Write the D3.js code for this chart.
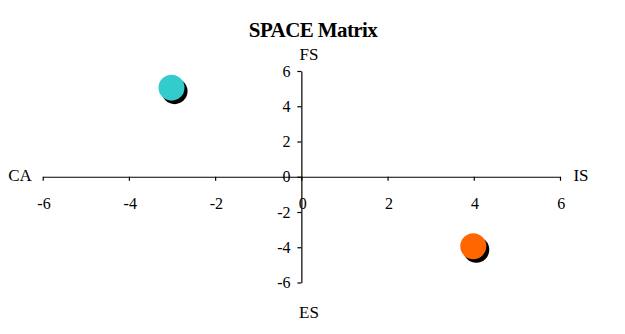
<!DOCTYPE html>
<html>
<head>
<meta charset="utf-8">
<script src="https://cdn.jsdelivr.net/npm/d3@7/dist/d3.min.js"></script>
<style>
  html, body { margin: 0; padding: 0; background: #fff; }
  svg { display: block; }
  text { font-family: "Liberation Serif", "Times New Roman", serif; fill: #000; }
</style>
</head>
<body>
<svg id="chart" width="625" height="334"></svg>
<script>
const seriesNames = ["Company A", "Company B"];
const xValues = [-3, 4];
const yValues = [5, -4];
const pointColors = ["#33CCCC", "#FF6600"];
const tickValues = [-6, -4, -2, 0, 2, 4, 6];
const tickLabels = ["-6", "-4", "-2", "0", "2", "4", "6"];
const title = "SPACE Matrix";
const axisNames = { top: "FS", bottom: "ES", left: "CA", right: "IS" };

const svg = d3.select("#chart");
const x = d3.scaleLinear().domain([-6, 6]).range([42.7, 560]);
const y = d3.scaleLinear().domain([-6, 6]).range([282.5, 71]);
const fmt = d => tickLabels[tickValues.indexOf(d)];

svg.append("rect").attr("width", 625).attr("height", 334).attr("fill", "#fff");

svg.append("text").attr("x", 313).attr("y", 37).attr("text-anchor", "middle")
  .style("font-size", "21px").style("font-weight", "bold").style("letter-spacing", "-0.6px")
  .text(title);

// X axis
const gx = svg.append("g").attr("transform", `translate(0,${y(0)})`)
  .call(d3.axisBottom(x).tickValues(tickValues).tickFormat(fmt).tickSize(4).tickSizeOuter(0).tickPadding(17));
// Y axis
const gy = svg.append("g").attr("transform", `translate(${x(0)},0)`)
  .call(d3.axisLeft(y).tickValues(tickValues).tickFormat(fmt).tickSize(4).tickSizeOuter(0).tickPadding(6));

[gx, gy].forEach(g => {
  g.attr("font-family", null).attr("font-size", null);
  g.select(".domain").attr("stroke", "#000").attr("stroke-width", 1.2);
  g.selectAll(".tick line").attr("stroke", "#000").attr("stroke-width", 1.2);
  g.selectAll(".tick text").style("font-size", "16px").attr("fill", "#000")
    .style("font-family", '"Liberation Serif", "Times New Roman", serif');
});
gx.selectAll(".tick text").attr("dx", "0.05em");
gy.selectAll(".tick text").attr("dx", "-0.05em");

// Axis name labels
svg.append("text").attr("x", 309).attr("y", 60).attr("text-anchor", "middle").style("font-size", "17px").text(axisNames.top);
svg.append("text").attr("x", 309).attr("y", 318).attr("text-anchor", "middle").style("font-size", "17px").text(axisNames.bottom);
svg.append("text").attr("x", 20).attr("y", 181).attr("text-anchor", "middle").style("font-size", "17px").text(axisNames.left);
svg.append("text").attr("x", 581).attr("y", 181).attr("text-anchor", "middle").style("font-size", "17px").text(axisNames.right);

// Points with shadow
const pts = xValues.map((v, i) => ({ x: v, y: yValues[i], c: pointColors[i], name: seriesNames[i] }));
svg.selectAll("circle.shadow").data(pts).enter().append("circle")
  .attr("class", "shadow").attr("cx", d => x(d.x) + 2.5).attr("cy", d => y(d.y) + 2.5)
  .attr("r", 13).attr("fill", "#000");
svg.selectAll("circle.pt").data(pts).enter().append("circle")
  .attr("class", "pt").attr("cx", d => x(d.x) - 0.5).attr("cy", d => y(d.y) - 1)
  .attr("r", 13).attr("fill", d => d.c);
</script>
</body>
</html>
